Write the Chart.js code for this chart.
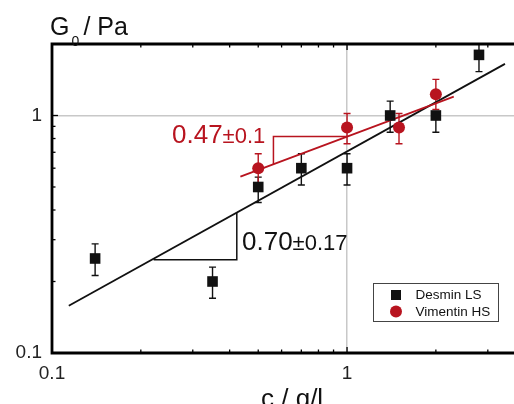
<!DOCTYPE html>
<html>
<head>
<meta charset="utf-8">
<script src="https://cdn.jsdelivr.net/npm/chart.js@4.4.1/dist/chart.umd.min.js"></script>
<style>
  html, body { margin: 0; padding: 0; background: #fff; }
  #wrap { width: 514px; height: 404px; }
</style>
</head>
<body>
<div id="wrap"><canvas id="myChart" width="514" height="404"></canvas></div>
<script>
// Desmin LS: concentration (g/l), modulus (Pa), error bar ends
const desminC = [0.14, 0.35, 0.5, 0.7, 1.0, 1.4, 2.0, 2.8];
const desminG = [0.25, 0.20, 0.50, 0.60, 0.60, 1.00, 1.00, 1.80];
const desminHi = [0.288, 0.23, 0.55, 0.69, 0.69, 1.15, 1.0, 2.1];
const desminLo = [0.212, 0.17, 0.43, 0.51, 0.51, 0.85, 0.85, 1.53];

// Vimentin HS
const vimC = [0.5, 1.0, 1.5, 2.0];
const vimG = [0.60, 0.89, 0.89, 1.23];
const vimHi = [0.69, 1.02, 1.02, 1.42];
const vimLo = [0.52, 0.76, 0.76, 1.06];

// power law fits (end points of the drawn lines)
const desminFitC = [0.114, 3.43];
const desminFitG = [0.158, 1.65];
const vimFitC = [0.435, 2.30];
const vimFitG = [0.553, 1.20];

// slope triangles
const desminTriC = [0.221, 0.423, 0.423];
const desminTriG = [0.247, 0.247, 0.390];
const vimTriC = [0.563, 0.563, 1.0];
const vimTriG = [0.625, 0.815, 0.815];

// axes
const xTicks = [0.1, 0.2, 0.3, 0.4, 0.5, 0.6, 0.7, 0.8, 0.9, 1, 2, 3];
const yTicks = [0.1, 0.2, 0.3, 0.4, 0.5, 0.6, 0.7, 0.8, 0.9, 1, 2];
const tickLabels = ["0.1", "1"];

const RED = "#b8141f";
const BLACK = "#111111";
const FONT = "'Liberation Sans', Arial, sans-serif";

const pts = (xs, ys) => xs.map((x, i) => ({ x: x, y: ys[i] }));

// error bars, drawn under the markers
const errorBars = {
  id: "errorBars",
  beforeDatasetsDraw: (chart) => {
    const ctx = chart.ctx;
    const xs = chart.scales.x;
    const ys = chart.scales.y;
    const a = chart.chartArea;
    ctx.save();
    ctx.beginPath();
    ctx.rect(a.left, a.top, a.right - a.left, a.bottom - a.top);
    ctx.clip();
    const draw = (cs, lo, hi, color) => {
      ctx.strokeStyle = color;
      ctx.lineWidth = 1.4;
      cs.forEach((c, i) => {
        const px = xs.getPixelForValue(c);
        const y1 = ys.getPixelForValue(lo[i]);
        const y2 = ys.getPixelForValue(hi[i]);
        ctx.beginPath();
        ctx.moveTo(px, y1);
        ctx.lineTo(px, y2);
        ctx.moveTo(px - 3.5, y1);
        ctx.lineTo(px + 3.5, y1);
        ctx.moveTo(px - 3.5, y2);
        ctx.lineTo(px + 3.5, y2);
        ctx.stroke();
      });
    };
    draw(desminC, desminLo, desminHi, BLACK);
    draw(vimC, vimLo, vimHi, RED);
    ctx.restore();
  },
};

// frame, inward ticks, axis titles, slope labels and legend
const decorations = {
  id: "decorations",
  afterDraw: (chart) => {
    const ctx = chart.ctx;
    const xs = chart.scales.x;
    const ys = chart.scales.y;
    const a = chart.chartArea;
    ctx.save();

    // ticks
    ctx.strokeStyle = "#000";
    ctx.lineWidth = 1.3;
    xTicks.forEach((v) => {
      const px = xs.getPixelForValue(v);
      const len = v === 0.1 || v === 1 ? 6 : 3.5;
      ctx.beginPath();
      ctx.moveTo(px, a.bottom);
      ctx.lineTo(px, a.bottom - len);
      ctx.moveTo(px, a.top);
      ctx.lineTo(px, a.top + len);
      ctx.stroke();
    });
    yTicks.forEach((v) => {
      const py = ys.getPixelForValue(v);
      const len = v === 0.1 || v === 1 ? 6 : 3.5;
      ctx.beginPath();
      ctx.moveTo(a.left, py);
      ctx.lineTo(a.left + len, py);
      ctx.stroke();
    });

    // frame (right side is cut off)
    ctx.lineWidth = 2.8;
    ctx.beginPath();
    ctx.moveTo(a.right + 2, a.top);
    ctx.lineTo(a.left, a.top);
    ctx.lineTo(a.left, a.bottom);
    ctx.lineTo(a.right + 2, a.bottom);
    ctx.stroke();

    // axis titles
    ctx.fillStyle = "#111";
    ctx.textBaseline = "alphabetic";
    ctx.textAlign = "left";
    ctx.font = "25px " + FONT;
    ctx.fillText("G", 50, 35);
    let w = ctx.measureText("G").width;
    ctx.font = "14px " + FONT;
    ctx.fillText("0", 50 + w + 2, 46);
    ctx.font = "25px " + FONT;
    ctx.fillText(" / Pa", 50 + w + 7, 35);

    ctx.font = "26px " + FONT;
    ctx.fillText("c / g/l", 261, 407);

    // slope labels
    const label = (big, small, x, y, color) => {
      ctx.fillStyle = color;
      ctx.font = "26px " + FONT;
      ctx.fillText(big, x, y);
      const bw = ctx.measureText(big).width;
      ctx.font = "22px " + FONT;
      ctx.fillText(small, x + bw, y);
    };
    label("0.47", "±0.1", 172, 143, RED);
    label("0.70", "±0.17", 242, 250, "#111");

    // legend
    ctx.strokeStyle = "#444";
    ctx.lineWidth = 1;
    ctx.strokeRect(373.5, 283.5, 125, 38);
    ctx.fillStyle = BLACK;
    ctx.fillRect(391, 290, 10, 10);
    ctx.fillStyle = RED;
    ctx.beginPath();
    ctx.arc(396, 311.5, 6, 0, Math.PI * 2);
    ctx.fill();
    ctx.fillStyle = "#111";
    ctx.font = "13.5px " + FONT;
    ctx.textBaseline = "middle";
    ctx.fillText("Desmin LS", 415.5, 295.5);
    ctx.fillText("Vimentin HS", 415.5, 312);

    ctx.restore();
  },
};

const ctx = document.getElementById("myChart");
new Chart(ctx, {
  type: "scatter",
  data: {
    datasets: [
      {
        label: "Vimentin HS",
        data: pts(vimC, vimG),
        pointStyle: "circle",
        pointRadius: 6,
        backgroundColor: RED,
        borderColor: RED,
        borderWidth: 0,
      },
      {
        label: "Desmin LS",
        data: pts(desminC, desminG),
        pointStyle: "rect",
        pointRadius: 7.5,
        backgroundColor: BLACK,
        borderColor: BLACK,
        borderWidth: 0,
      },
      {
        label: "Vimentin fit",
        data: pts(vimFitC, vimFitG),
        showLine: true,
        pointRadius: 0,
        borderColor: RED,
        borderWidth: 1.8,
      },
      {
        label: "Desmin fit",
        data: pts(desminFitC, desminFitG),
        showLine: true,
        pointRadius: 0,
        borderColor: BLACK,
        borderWidth: 1.8,
      },
      {
        label: "Vimentin slope",
        data: pts(vimTriC, vimTriG),
        showLine: true,
        pointRadius: 0,
        borderColor: RED,
        borderWidth: 1.5,
      },
      {
        label: "Desmin slope",
        data: pts(desminTriC, desminTriG),
        showLine: true,
        pointRadius: 0,
        borderColor: BLACK,
        borderWidth: 1.5,
      },
    ],
  },
  options: {
    responsive: false,
    animation: false,
    devicePixelRatio: 1,
    layout: { autoPadding: false, padding: { top: 44, right: 0, left: 0, bottom: 0 } },
    plugins: {
      legend: { display: false },
      tooltip: { enabled: false },
    },
    scales: {
      x: {
        type: "logarithmic",
        min: 0.1,
        max: 3.68,
        afterBuildTicks: (scale) => {
          scale.ticks = xTicks.map((v) => ({ value: v }));
        },
        afterFit: (scale) => {
          scale.height = 51;
          scale.paddingLeft = 0;
          scale.paddingRight = 0;
        },
        border: { display: false },
        grid: {
          drawTicks: false,
          lineWidth: 1.5,
          color: (c) => (c.tick && c.tick.value === 1 ? "#c8c8c8" : "rgba(0,0,0,0)"),
        },
        ticks: {
          autoSkip: false,
          maxRotation: 0,
          minRotation: 0,
          padding: 9,
          color: "#222",
          font: { family: FONT, size: 19 },
          callback: (v) => (tickLabels.includes(String(v)) ? String(v) : ""),
        },
      },
      y: {
        type: "logarithmic",
        min: 0.1,
        max: 2.0,
        afterBuildTicks: (scale) => {
          scale.ticks = yTicks.map((v) => ({ value: v }));
        },
        afterFit: (scale) => {
          scale.width = 52;
          scale.paddingTop = 0;
          scale.paddingBottom = 0;
        },
        border: { display: false },
        grid: {
          drawTicks: false,
          lineWidth: 1.5,
          color: (c) => (c.tick && c.tick.value === 1 ? "#c8c8c8" : "rgba(0,0,0,0)"),
        },
        ticks: {
          autoSkip: false,
          padding: 10,
          color: "#222",
          font: { family: FONT, size: 19 },
          callback: (v) => (tickLabels.includes(String(v)) ? String(v) : ""),
        },
      },
    },
  },
  plugins: [errorBars, decorations],
});
</script>
</body>
</html>
